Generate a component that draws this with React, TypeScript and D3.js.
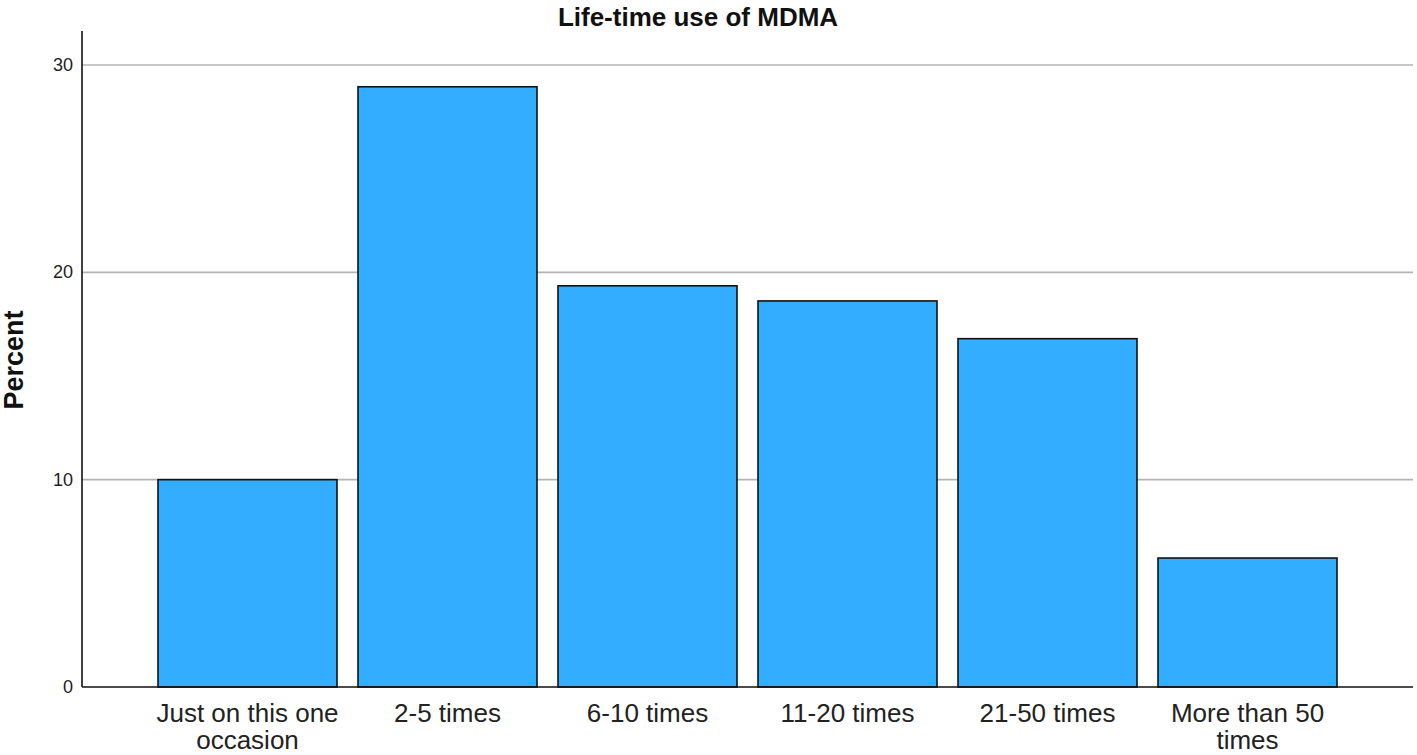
import React from "react";
import * as d3 from "d3";

const categories: string[][] = [
  ["Just on this one", "occasion"],
  ["2-5 times"],
  ["6-10 times"],
  ["11-20 times"],
  ["21-50 times"],
  ["More than 50", "times"],
];
const percents: number[] = [10.0, 28.95, 19.35, 18.62, 16.8, 6.22];
const yTicks: number[] = [0, 10, 20, 30];
const title = "Life-time use of MDMA";
const yLabel = "Percent";

const W = 1417;
const H = 755;
const left = 82;
const right = 1413;
const top = 31;
const bottom = 687;

export default function App() {
  const ids = categories.map((_, i) => String(i));
  const x = d3
    .scaleBand<string>()
    .domain(ids)
    .range([left, right])
    .paddingInner(0.105)
    .paddingOuter(0.38);
  const y = d3.scaleLinear().domain([0, 30]).range([bottom, 65]);

  return (
    <svg
      width={W}
      height={H}
      style={{ position: "absolute", left: 0, top: 0, background: "#fff" }}
      fontFamily="'Liberation Sans', Arial, sans-serif"
    >
      {yTicks
        .filter((t) => t > 0)
        .map((t) => (
          <line
            key={"g" + t}
            x1={left}
            x2={right}
            y1={y(t)}
            y2={y(t)}
            stroke="#b4b4b4"
            strokeWidth={1.6}
          />
        ))}
      {percents.map((v, i) => (
        <rect
          key={"b" + i}
          x={x(String(i))!}
          y={y(v)}
          width={x.bandwidth()}
          height={bottom - y(v)}
          fill="#33adff"
          stroke="#111"
          strokeWidth={1.6}
        />
      ))}
      <line x1={left} x2={left} y1={top} y2={bottom} stroke="#111" strokeWidth={1.6} />
      <line x1={left} x2={right} y1={bottom} y2={bottom} stroke="#111" strokeWidth={1.6} />
      {yTicks.map((t) => (
        <text
          key={"t" + t}
          x={left - 9}
          y={y(t)}
          textAnchor="end"
          dominantBaseline="central"
          fontSize={18}
          fill="#222"
        >
          {t}
        </text>
      ))}
      {categories.map((lines, i) => (
        <text
          key={"c" + i}
          x={x(String(i))! + x.bandwidth() / 2}
          y={722}
          textAnchor="middle"
          fontSize={26}
          fill="#222"
        >
          {lines.map((l, j) => (
            <tspan key={j} x={x(String(i))! + x.bandwidth() / 2} dy={j === 0 ? 0 : 27}>
              {l}
            </tspan>
          ))}
        </text>
      ))}
      <text
        x={698}
        y={26}
        textAnchor="middle"
        fontSize={26}
        fontWeight="bold"
        fill="#111"
      >
        {title}
      </text>
      <text
        transform={`translate(23, 360) rotate(-90)`}
        textAnchor="middle"
        fontSize={27}
        fontWeight="bold"
        fill="#111"
      >
        {yLabel}
      </text>
    </svg>
  );
}
